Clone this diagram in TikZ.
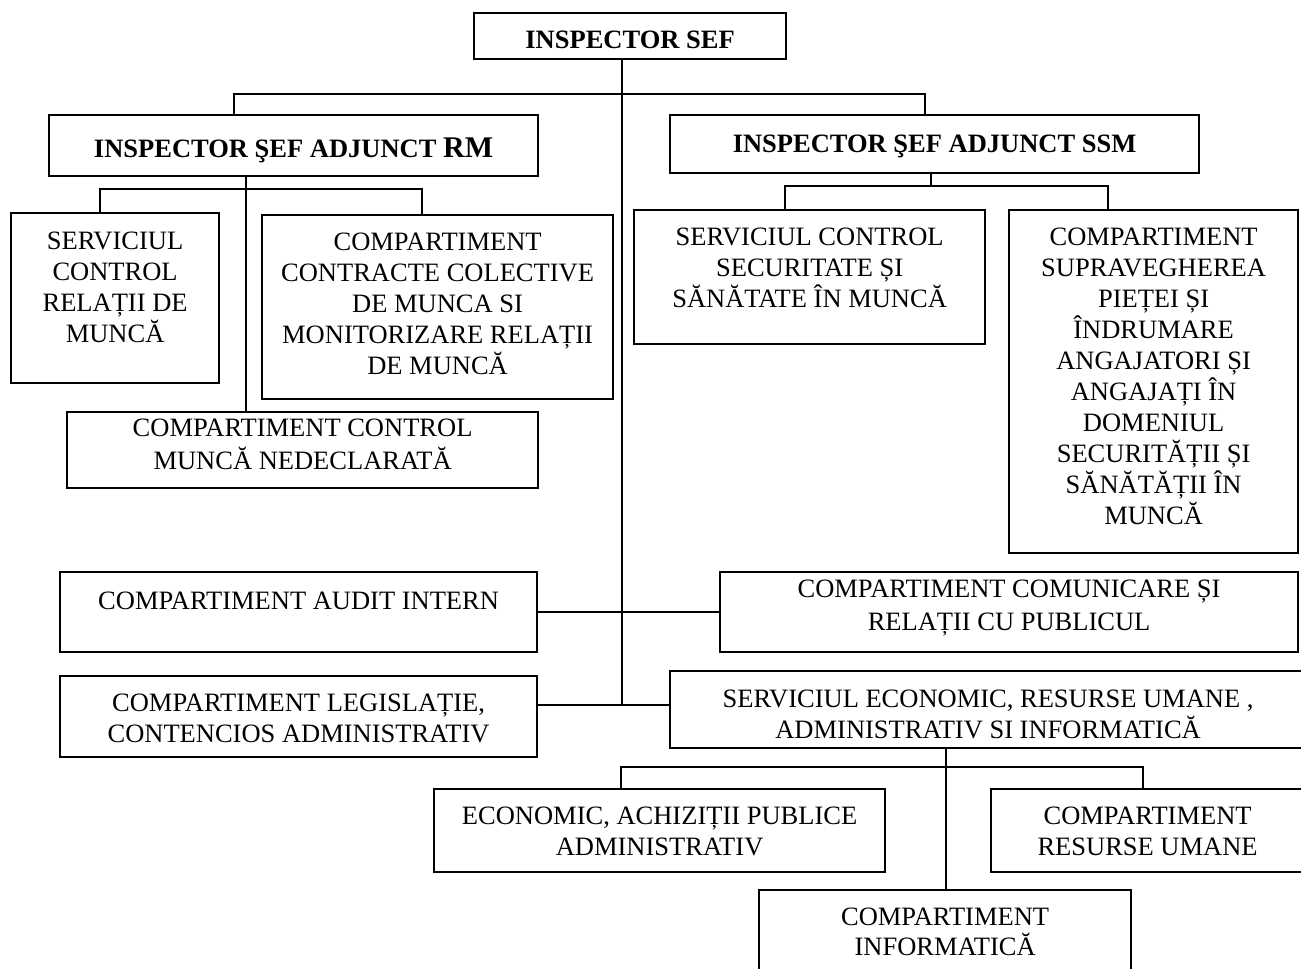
\documentclass[tikz,border=0pt]{standalone}
\usepackage{fontspec}
\setmainfont{Liberation Serif}
\newcommand{\boxtxt}[4][35]{\parbox[c][#3pt][t]{#2pt}{\centering\rule{0pt}{#1pt}#4}}

\begin{document}
\begin{tikzpicture}[x=1pt, y=-1pt,
    font=\fontsize{26.5}{31}\selectfont,
    unit/.style={draw, line width=2.2pt, inner sep=0pt, anchor=north west},
    link/.style={line width=1.4pt}]
  \useasboundingbox (0,0) rectangle (1301,969);
  \clip (0,0) rectangle (1301,969);

  \node[unit] (chief) at (473,12) {\boxtxt{312}{46}{\bfseries INSPECTOR SEF}};
  \node[unit] (rm) at (48,114) {\boxtxt[42]{489}{61}{\bfseries INSPECTOR ŞEF ADJUNCT {\fontsize{30}{31}\selectfont RM}}};
  \node[unit] (ssm) at (669,114) {\boxtxt[37.5]{529}{58}{\bfseries INSPECTOR ŞEF ADJUNCT SSM}};
  \node[unit] (scrm) at (10,212) {\boxtxt[36]{208}{170}{SERVICIUL\\ CONTROL\\ RELAȚII DE\\ MUNCĂ}};
  \node[unit] (ccm) at (261,214) {\boxtxt{351}{184}{COMPARTIMENT\\ CONTRACTE COLECTIVE\\ DE MUNCA SI\\ MONITORIZARE RELAȚII\\ DE MUNCĂ}};
  \node[unit] (nedecl) at (66,411) {\boxtxt[24]{471}{76}{COMPARTIMENT CONTROL\\[2.3pt] MUNCĂ NEDECLARATĂ}};
  \node[unit] (scssm) at (633,209) {\boxtxt{351}{134}{SERVICIUL CONTROL\\ SECURITATE ȘI\\ SĂNĂTATE ÎN MUNCĂ}};
  \node[unit] (piata) at (1008,209) {\boxtxt{289}{343}{COMPARTIMENT\\ SUPRAVEGHEREA\\ PIEȚEI ȘI\\ ÎNDRUMARE\\ ANGAJATORI ȘI\\ ANGAJAȚI ÎN\\ DOMENIUL\\ SECURITĂȚII ȘI\\ SĂNĂTĂȚII ÎN\\ MUNCĂ}};
  \node[unit] (audit) at (59,571) {\boxtxt[37]{477}{80}{COMPARTIMENT AUDIT INTERN}};
  \node[unit] (comm) at (719,571) {\boxtxt[25]{578}{80}{COMPARTIMENT COMUNICARE ȘI\\[2.3pt] RELAȚII CU PUBLICUL}};
  \node[unit] (legis) at (59,675) {\boxtxt{477}{81}{COMPARTIMENT LEGISLAȚIE,\\ CONTENCIOS ADMINISTRATIV}};
  \node[unit] (sea) at (669,670) {\boxtxt[36]{636}{77}{SERVICIUL ECONOMIC, RESURSE UMANE ,\\ ADMINISTRATIV SI INFORMATICĂ}};
  \node[unit] (econ) at (433,788) {\boxtxt{451}{83}{ECONOMIC, ACHIZIȚII PUBLICE\\ ADMINISTRATIV}};
  \node[unit] (hr) at (990,788) {\boxtxt{313}{83}{COMPARTIMENT\\ RESURSE UMANE}};
  \node[unit] (info) at (758,889) {\boxtxt{372}{86}{COMPARTIMENT\\[-1pt] INFORMATICĂ}};

  \coordinate (top) at (622,94);
  \coordinate (rmdrop) at (234,94);
  \coordinate (ssmdrop) at (925,94);
  \coordinate (lowjoin) at (622,705);
  \draw[link] (chief.south -| top) -- (lowjoin);
  \draw[link] (rm.north -| rmdrop) -- (rmdrop) -- (ssmdrop) -- (ssm.north -| ssmdrop);
  \draw[link] (audit) -- (comm);
  \draw[link] (legis.east |- lowjoin) -- (sea.west |- lowjoin);

  \coordinate (rmstem) at (246,189);
  \coordinate (rmleft) at (100,189);
  \coordinate (rmright) at (422,189);
  \draw[link] (rm.south -| rmstem) -- (nedecl.north -| rmstem);
  \draw[link] (scrm.north -| rmleft) -- (rmleft) -- (rmright) -- (ccm.north -| rmright);

  \coordinate (ssmstem) at (931,186);
  \coordinate (ssmleft) at (785,186);
  \coordinate (ssmright) at (1108,186);
  \draw[link] (ssm.south -| ssmstem) -- (ssmstem);
  \draw[link] (scssm.north -| ssmleft) -- (ssmleft) -- (ssmright) -- (piata.north -| ssmright);

  \coordinate (seastem) at (946,767);
  \coordinate (sealeft) at (621,767);
  \coordinate (searight) at (1143,767);
  \draw[link] (sea.south -| seastem) -- (info.north -| seastem);
  \draw[link] (econ.north -| sealeft) -- (sealeft) -- (searight) -- (hr.north -| searight);
\end{tikzpicture}
\end{document}
